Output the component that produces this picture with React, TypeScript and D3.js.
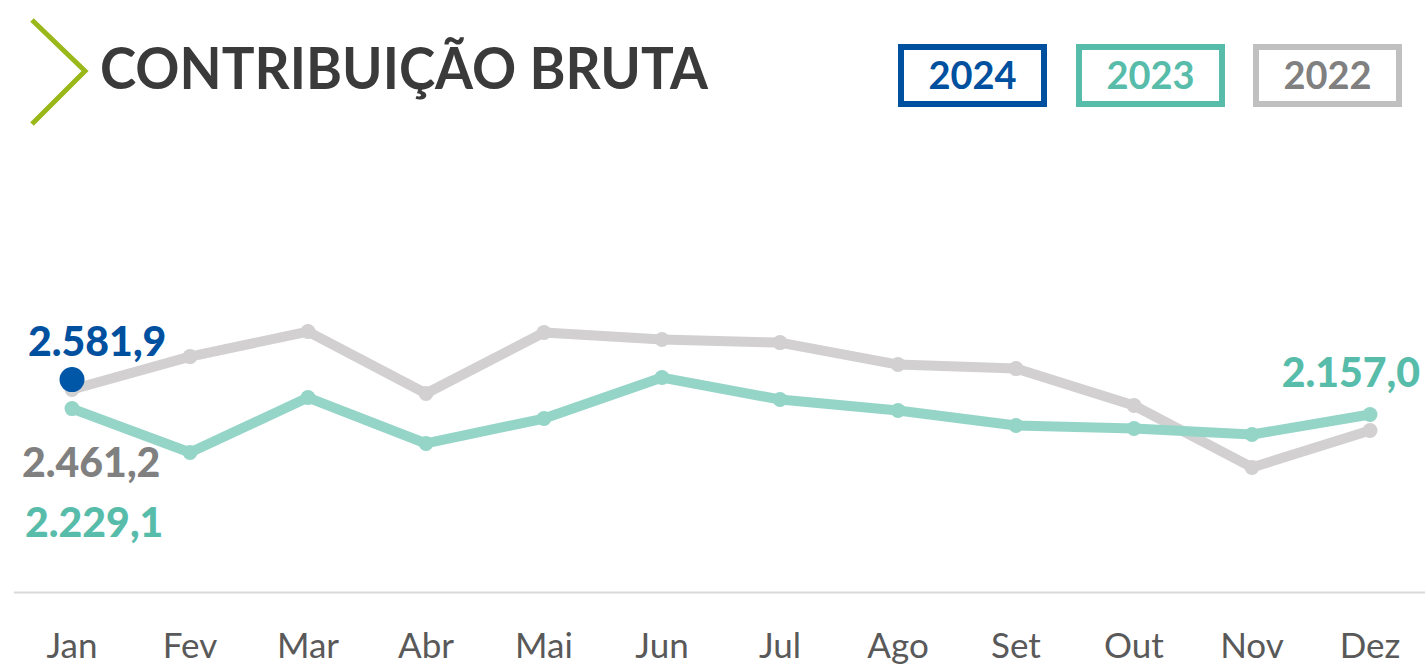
// @ts-nocheck
import { useEffect } from 'react';
import * as d3 from 'd3';

const months = ['Jan', 'Fev', 'Mar', 'Abr', 'Mai', 'Jun', 'Jul', 'Ago', 'Set', 'Out', 'Nov', 'Dez'];
const values2022 = [2461.2, 2861, 3165, 2412, 3153, 3068, 3031, 2764, 2715, 2266, 1514, 1963];
const values2023 = [2229.1, 1696, 2363, 1805, 2108, 2606, 2339, 2206, 2023, 1987, 1914, 2157.0];
const values2024 = [2581.9];
const legendYears = ['2024', '2023', '2022'];

const W = 1425;
const H = 664;

const fmt = (v) =>
  v.toLocaleString('pt-BR', { minimumFractionDigits: 1, maximumFractionDigits: 1 });

export default function App() {
  useEffect(() => {
    document.body.style.margin = '0';
  }, []);

  const x = d3.scalePoint().domain(months).range([72, 1370]);
  const y = d3.scaleLinear().domain([0, 3500]).range([592, 304]);

  const line = d3
    .line()
    .x((d, i) => x(months[i]))
    .y((d) => y(d));

  const colors = {
    '2024': { box: '#0050a0', text: '#0050a0' },
    '2023': { box: '#57bcaa', text: '#57bcaa' },
    '2022': { box: '#c0c0c0', text: '#808080' },
  };

  const legendX = [898, 1076, 1253];
  const numFont = 'Lato, "Open Sans", sans-serif';

  return (
    <svg width={W} height={H} style={{ display: 'block', background: '#fff' }}>
      {/* chevron + title */}
      <polyline
        points="32,20 85,71 32,124"
        fill="none"
        stroke="#9ab81a"
        strokeWidth={5}
      />
      <text
        x={100}
        y={89}
        fontFamily='Lato, "Open Sans", sans-serif'
        fontWeight={700}
        fontSize={57}
        fill="#3a3a3a"
        textLength={608}
        lengthAdjust="spacingAndGlyphs"
      >
        CONTRIBUIÇÃO BRUTA
      </text>

      {/* legend */}
      {legendYears.map((yr, i) => (
        <g key={yr}>
          <rect
            x={legendX[i] + 3}
            y={47}
            width={143}
            height={57}
            fill="#fff"
            stroke={colors[yr].box}
            strokeWidth={6}
          />
          <text
            x={legendX[i] + 74.5}
            y={89}
            textAnchor="middle"
            fontFamily={numFont}
            fontWeight={700}
            fontSize={38}
            fill={colors[yr].text}
          >
            {yr}
          </text>
        </g>
      ))}

      {/* axis baseline */}
      <line x1={14} x2={W} y1={592.5} y2={592.5} stroke="#d9d9d9" strokeWidth={2} />
      {months.map((m) => (
        <text
          key={m}
          x={x(m)}
          y={658}
          textAnchor="middle"
          fontFamily={numFont}
          fontWeight={400}
          fontSize={35}
          fill="#595959"
        >
          {m}
        </text>
      ))}

      {/* 2022 */}
      <path d={line(values2022)} fill="none" stroke="#d2d0d1" strokeWidth={10} strokeLinejoin="round" />
      {values2022.map((v, i) => (
        <circle key={'a' + i} cx={x(months[i])} cy={y(v)} r={7.5} fill="#d2d0d1" />
      ))}

      {/* 2023 */}
      <path d={line(values2023)} fill="none" stroke="#95d5c8" strokeWidth={10} strokeLinejoin="round" />
      {values2023.map((v, i) => (
        <circle key={'b' + i} cx={x(months[i])} cy={y(v)} r={7.5} fill="#95d5c8" />
      ))}

      {/* 2024 */}
      {values2024.map((v, i) => (
        <circle key={'c' + i} cx={x(months[i])} cy={y(v)} r={12.5} fill="#0057a8" />
      ))}

      {/* data labels */}
      <text x={28} y={356} fontFamily={numFont} fontWeight={900} fontSize={41} fill="#0050a0">
        {fmt(values2024[0])}
      </text>
      <text x={22} y={477} fontFamily={numFont} fontWeight={900} fontSize={41} fill="#808080">
        {fmt(values2022[0])}
      </text>
      <text x={25} y={537} fontFamily={numFont} fontWeight={900} fontSize={41} fill="#57bcaa">
        {fmt(values2023[0])}
      </text>
      <text x={1420} y={387} textAnchor="end" fontFamily={numFont} fontWeight={900} fontSize={41} fill="#57bcaa">
        {fmt(values2023[11])}
      </text>
    </svg>
  );
}
